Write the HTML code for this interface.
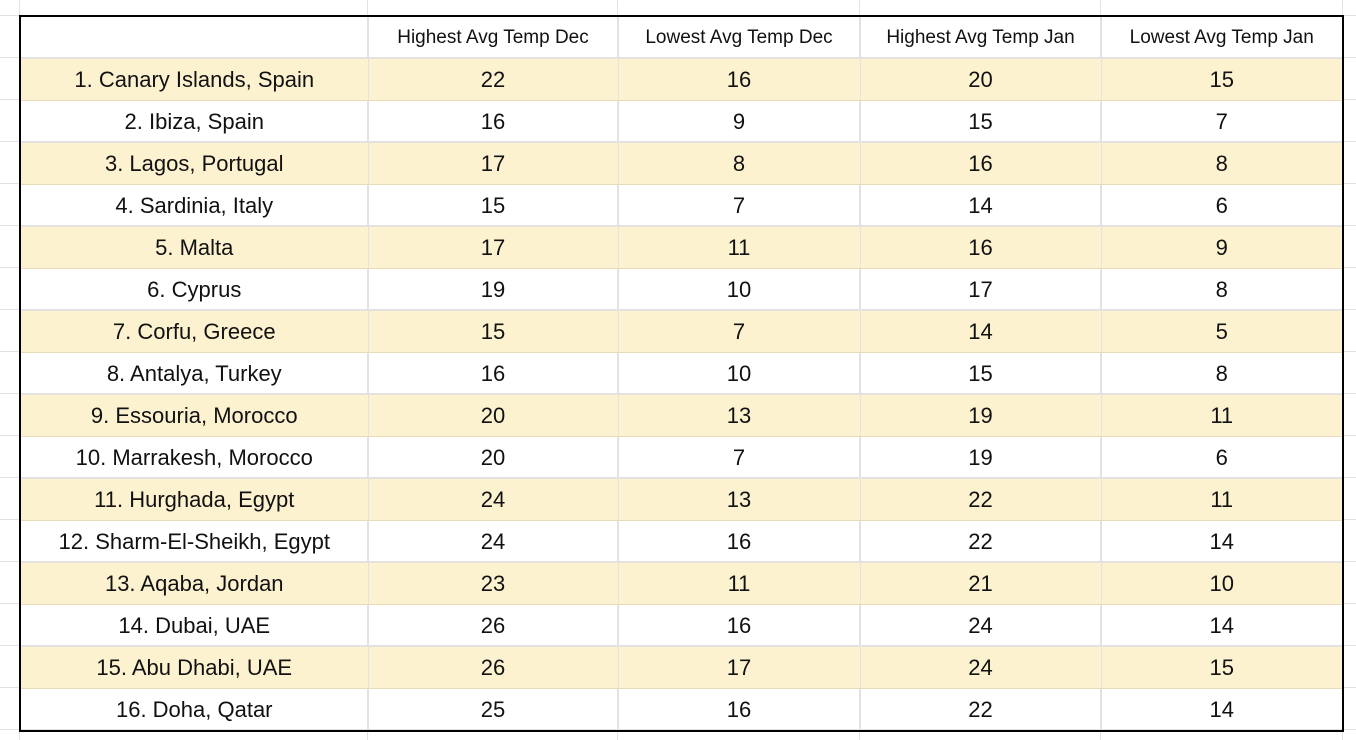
<!DOCTYPE html>
<html><head><meta charset="utf-8">
<style>
body{margin:0;width:1356px;height:740px;background:#fff;position:relative;overflow:hidden;font-family:"Liberation Sans",Arial,sans-serif;}
.gl{position:absolute;background:#e2e2e2;}
table{position:absolute;left:19px;top:15px;border-collapse:collapse;border:2px solid #000;table-layout:fixed;}
td{height:41px;padding:0;text-align:center;font-size:22px;color:#111;border:1px solid #e2e2e2;box-sizing:border-box;line-height:41px;white-space:nowrap;}
tr.h td{font-size:19px;}
tr.y td{background:#fdf2d0;border-top:1px solid #e6dcbc;border-bottom:1px solid #e6dcbc;}
</style></head><body>
<div id="grid"></div>
<table>
<colgroup><col style="width:348px"><col style="width:250px"><col style="width:242px"><col style="width:241px"><col style="width:242px"></colgroup>
<tbody id="tb">
<tr class="h"><td></td><td>Highest Avg Temp Dec</td><td>Lowest Avg Temp Dec</td><td>Highest Avg Temp Jan</td><td>Lowest Avg Temp Jan</td></tr>
</tbody></table>
<script>
const names=["1. Canary Islands, Spain","2. Ibiza, Spain","3. Lagos, Portugal","4. Sardinia, Italy","5. Malta","6. Cyprus","7. Corfu, Greece","8. Antalya, Turkey","9. Essouria, Morocco","10. Marrakesh, Morocco","11. Hurghada, Egypt","12. Sharm-El-Sheikh, Egypt","13. Aqaba, Jordan","14. Dubai, UAE","15. Abu Dhabi, UAE","16. Doha, Qatar"];
const highDec=[22,16,17,15,17,19,15,16,20,20,24,24,23,26,26,25];
const lowDec=[16,9,8,7,11,10,7,10,13,7,13,16,11,16,17,16];
const highJan=[20,15,16,14,16,17,14,15,19,19,22,22,21,24,24,22];
const lowJan=[15,7,8,6,9,8,5,8,11,6,11,14,10,14,15,14];
const tb=document.getElementById('tb');
names.forEach((n,i)=>{
  const tr=document.createElement('tr');
  
  
  if(i%2===0) tr.className='y';
  [n,highDec[i],lowDec[i],highJan[i],lowJan[i]].forEach((v,j)=>{
    const td=document.createElement('td');
    
    
    td.textContent=v;
    tr.appendChild(td);
  });
  tb.appendChild(tr);
});
const g=document.getElementById('grid');
[19,367,617,859,1100,1342].forEach(x=>{
  const d=document.createElement('div');d.className='gl';
  
  
  d.style.cssText='left:'+x+'px;top:0;width:1px;height:740px;';g.appendChild(d);
});
for(let k=0;k<18;k++){
  const y=15+k*42;
  const d=document.createElement('div');d.className='gl';
  
  
  d.style.cssText='left:0;top:'+y+'px;width:1356px;height:1px;';g.appendChild(d);
}
</script>
</body></html>
